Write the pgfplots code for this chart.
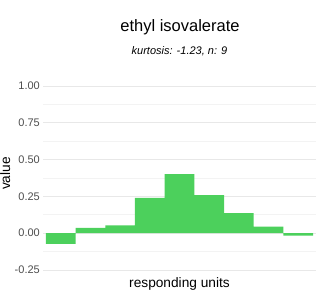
\documentclass[border=0pt]{standalone}
\usepackage{fontspec}
\setmainfont{Liberation Sans}
\usepackage{pgfplots}
\pgfplotsset{compat=1.18}
\definecolor{barg}{RGB}{76,208,92}
\definecolor{gmaj}{RGB}{232,232,232}
\definecolor{gmin}{RGB}{243,243,243}
\definecolor{tickc}{RGB}{77,77,77}
\begin{document}
\begin{tikzpicture}[x=1pt,y=1pt]
\path[use as bounding box] (0,0) rectangle (320,300);
\begin{axis}[
  at={(43pt,21pt)}, anchor=south west,
  scale only axis, width=273pt, height=202.2pt,
  xmin=0.4, xmax=9.6, ymin=-0.3125, ymax=1.0625,
  axis line style={draw=none},
  major tick length=0pt, minor tick length=0pt,
  ytick={-0.25,0,0.25,0.5,0.75,1},
  yticklabels={},
  minor ytick={-0.125,0.125,0.375,0.625,0.875},
  xtick=\empty,
  ymajorgrids, yminorgrids,
  major grid style={gmaj, line width=0.6pt},
  minor grid style={gmin, line width=0.35pt},
  clip=false,
]
\addplot[ybar interval, fill=barg, draw=none] coordinates {
  (0.5,-0.073) (1.5,0.036) (2.5,0.052) (3.5,0.240) (4.5,0.401)
  (5.5,0.258) (6.5,0.136) (7.5,0.043) (8.5,-0.018) (9.5,-0.018)
};
\foreach \v/\l in {-0.25/-0.25,0/0.00,0.25/0.25,0.5/0.50,0.75/0.75,1/1.00}{
  \edef\tmp{\noexpand\node[anchor=east, font=\noexpand\fontsize{11}{11}\noexpand\selectfont, text=tickc, inner sep=0pt] at (axis cs:0.4,\v) [xshift=-3pt] {\l};}
  \tmp
}
\end{axis}
\node[anchor=base, font=\fontsize{16.5}{16.5}\selectfont] at (180,268) {ethyl isovalerate};
\node[anchor=base, font=\fontsize{11}{11}\selectfont\itshape] at (179.5,245.7) {kurtosis: -1.23, n: 9};
\node[anchor=base, font=\fontsize{13.7}{13.7}\selectfont] at (179.5,13) {responding units};
\node[anchor=base, rotate=90, font=\fontsize{13.7}{13.7}\selectfont] at (10,126.5) {value};
\end{tikzpicture}
\end{document}
